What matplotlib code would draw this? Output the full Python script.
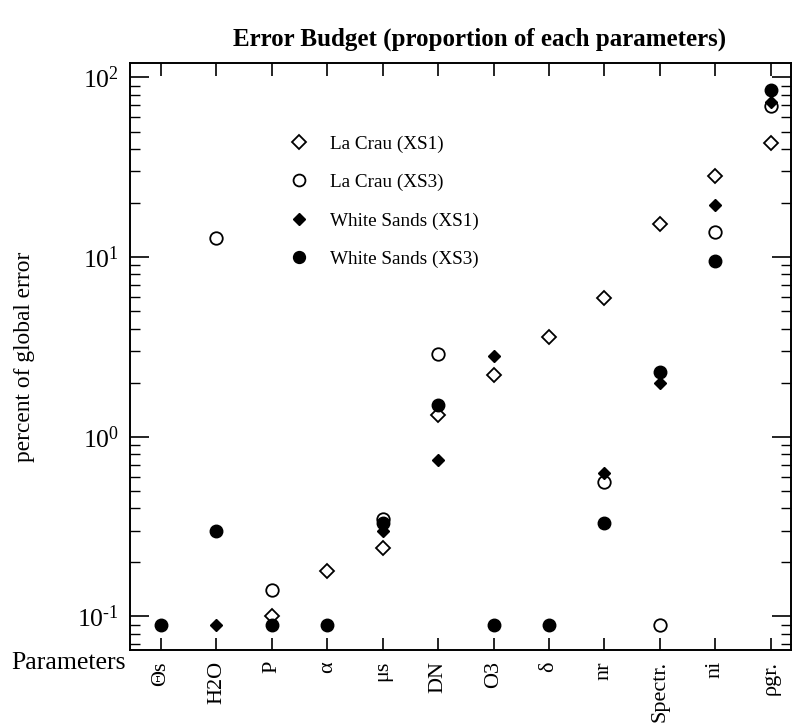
import numpy as np
import matplotlib
matplotlib.use("Agg")
import matplotlib.pyplot as plt
from matplotlib.ticker import FixedLocator, LogLocator, NullFormatter, FuncFormatter

plt.rcParams["font.family"] = ["Liberation Serif", "DejaVu Serif"]
plt.rcParams["mathtext.fontset"] = "custom"
plt.rcParams["mathtext.rm"] = "Liberation Serif"
plt.rcParams["mathtext.it"] = "Liberation Serif:italic"

# Parameters contributing to the error budget
parameters = ["\u0398s", "H2O", "P", "\u03b1", "\u03bcs", "DN", "O3", "\u03b4",
              "nr", "Spectr.", "ni", "\u03c1gr."]

nan = np.nan
# Percent of global error for each site / sensor
la_crau_xs1 = [nan, nan, 0.10, 0.178, 0.24, 1.32, 2.2, 3.6, 5.9, 15.2, 28.3, 43.0]
la_crau_xs3 = [nan, 12.8, 0.14, nan, 0.35, 2.87, nan, nan, 0.56, 0.09, 13.8, 69.0]
white_sands_xs1 = [nan, 0.09, nan, nan, 0.30, 0.74, 2.8, nan, 0.63, 2.0, 19.5, 73.0]
white_sands_xs3 = [0.09, 0.297, 0.09, 0.09, 0.33, 1.5, 0.09, 0.09, 0.33, 2.3, 9.5, 85.0]

series = [
    ("La Crau (XS1)", la_crau_xs1, dict(marker="D", ms=7, mfc="white", mec="black", mew=1.3)),
    ("La Crau (XS3)", la_crau_xs3, dict(marker="o", ms=9, mfc="white", mec="black", mew=1.3)),
    ("White Sands (XS1)", white_sands_xs1, dict(marker="D", ms=6, mfc="black", mec="black", mew=1.0)),
    ("White Sands (XS3)", white_sands_xs3, dict(marker="o", ms=9, mfc="black", mec="black", mew=1.0)),
]

fig = plt.figure(figsize=(7.95, 7.27), dpi=100)
ax = fig.add_axes([0.1635, 0.106, 0.831, 0.807])

x = np.arange(len(parameters))
for label, vals, style in series:
    ax.plot(x, vals, linestyle="none", label=label, **style)

ax.set_yscale("log")
ax.set_ylim(0.065, 120)
ax.set_xlim(-0.56, len(parameters) - 1 + 0.36)

ax.xaxis.set_major_locator(FixedLocator(x))
ax.set_xticklabels(parameters, rotation=90, fontsize=16)
ax.tick_params(axis="x", which="major", direction="in", length=9, width=1.2,
               top=True, bottom=True, pad=8)


def decade_label(v, pos):
    e = int(round(np.log10(v)))
    exp = str(e).replace("-", "\u2010")
    return r"$\mathregular{10^{%s}}$" % exp


ax.yaxis.set_major_locator(LogLocator(base=10, numticks=10))
ax.yaxis.set_minor_locator(LogLocator(base=10, subs=np.arange(2, 10), numticks=10))
ax.yaxis.set_minor_formatter(NullFormatter())
ax.yaxis.set_major_formatter(FuncFormatter(decade_label))
ax.tick_params(axis="y", which="major", direction="in", length=14, width=1.2,
               left=True, right=True, labelsize=18.5, pad=8)
ax.tick_params(axis="y", which="minor", direction="in", length=7, width=1.0,
               left=True, right=True)

for s in ax.spines.values():
    s.set_linewidth(1.4)

ax.set_ylabel("percent of global error", fontsize=16.8, labelpad=30)
fig.text(0.014, 0.088, "Parameters", fontsize=18.5, ha="left", va="center")
fig.text(0.603, 0.946, "Error Budget (proportion of each parameters)",
         fontsize=18, fontweight="bold", ha="center", va="center")

leg = ax.legend(loc="upper left", bbox_to_anchor=(0.34, 0.838),
                bbox_transform=fig.transFigure, frameon=False, fontsize=13.8,
                labelspacing=1.1, handletextpad=1.0, markerscale=0.95,
                handlelength=1.2)

fig.savefig("out.png", dpi=100)
